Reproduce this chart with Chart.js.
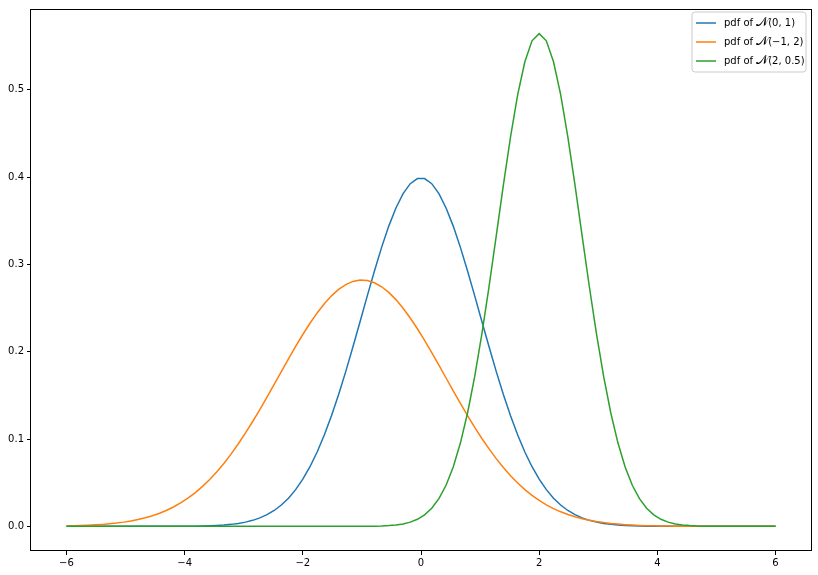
<!DOCTYPE html>
<html>
<head>
<meta charset="utf-8">
<script src="https://cdn.jsdelivr.net/npm/chart.js@4/dist/chart.umd.min.js"></script>
<style>
	html, body { margin: 0; padding: 0; background: #fff; }
	canvas { display: block; }
</style>
</head>
<body>
<canvas id="pdfChart" width="818" height="575"></canvas>
<script>
// x grid, -6 .. 6 (100 samples)
const xs = [
	-6.0, -5.8788, -5.7576, -5.6364, -5.5152, -5.3939, -5.2727, -5.1515, -5.0303, -4.9091,
	-4.7879, -4.6667, -4.5455, -4.4242, -4.303, -4.1818, -4.0606, -3.9394, -3.8182, -3.697,
	-3.5758, -3.4545, -3.3333, -3.2121, -3.0909, -2.9697, -2.8485, -2.7273, -2.6061, -2.4848,
	-2.3636, -2.2424, -2.1212, -2.0, -1.8788, -1.7576, -1.6364, -1.5152, -1.3939, -1.2727,
	-1.1515, -1.0303, -0.9091, -0.7879, -0.6667, -0.5455, -0.4242, -0.303, -0.1818, -0.0606,
	0.0606, 0.1818, 0.303, 0.4242, 0.5455, 0.6667, 0.7879, 0.9091, 1.0303, 1.1515,
	1.2727, 1.3939, 1.5152, 1.6364, 1.7576, 1.8788, 2.0, 2.1212, 2.2424, 2.3636,
	2.4848, 2.6061, 2.7273, 2.8485, 2.9697, 3.0909, 3.2121, 3.3333, 3.4545, 3.5758,
	3.697, 3.8182, 3.9394, 4.0606, 4.1818, 4.303, 4.4242, 4.5455, 4.6667, 4.7879,
	4.9091, 5.0303, 5.1515, 5.2727, 5.3939, 5.5152, 5.6364, 5.7576, 5.8788, 6.0,
];

const pdfStd = [
	0, 0, 0, 0, 0, 0, 0, 0, 0, 0,
	0, 0, 0, 0, 0, 0.00006, 0.0001, 0.00017, 0.00027, 0.00043,
	0.00067, 0.00102, 0.00154, 0.00229, 0.00336, 0.00485, 0.0069, 0.00968, 0.01337, 0.0182,
	0.02442, 0.03229, 0.04206, 0.05399, 0.0683, 0.08514, 0.10459, 0.1266, 0.151, 0.17749,
	0.20558, 0.23464, 0.2639, 0.29249, 0.31945, 0.3438, 0.36461, 0.38104, 0.3924, 0.39821,
	0.39821, 0.3924, 0.38104, 0.36461, 0.3438, 0.31945, 0.29249, 0.2639, 0.23464, 0.20558,
	0.17749, 0.151, 0.1266, 0.10459, 0.08514, 0.0683, 0.05399, 0.04206, 0.03229, 0.02442,
	0.0182, 0.01337, 0.00968, 0.0069, 0.00485, 0.00336, 0.00229, 0.00154, 0.00102, 0.00067,
	0.00043, 0.00027, 0.00017, 0.0001, 0.00006, 0, 0, 0, 0, 0,
	0, 0, 0, 0, 0, 0, 0, 0, 0, 0,
];

const pdfWide = [
	0.00054, 0.00073, 0.00098, 0.00131, 0.00173, 0.00226, 0.00294, 0.00379, 0.00486, 0.00618,
	0.00781, 0.00979, 0.01218, 0.01504, 0.01844, 0.02245, 0.02712, 0.03253, 0.03873, 0.04578,
	0.05371, 0.06256, 0.07232, 0.08301, 0.09456, 0.10695, 0.12007, 0.1338, 0.14802, 0.16256,
	0.17721, 0.19178, 0.20601, 0.2197, 0.23256, 0.24438, 0.25494, 0.26398, 0.27136, 0.2769,
	0.28048, 0.28203, 0.28151, 0.27894, 0.27437, 0.2679, 0.25966, 0.24982, 0.23861, 0.22625,
	0.21295, 0.19895, 0.18452, 0.16989, 0.15527, 0.14087, 0.12687, 0.11341, 0.10066, 0.08868,
	0.07755, 0.06733, 0.05802, 0.04963, 0.04215, 0.03553, 0.02973, 0.0247, 0.02037, 0.01667,
	0.01355, 0.01093, 0.00875, 0.00696, 0.00549, 0.0043, 0.00334, 0.00258, 0.00198, 0.0015,
	0.00114, 0.00085, 0.00063, 0.00047, 0.00034, 0.00025, 0.00018, 0.00013, 0.00009, 0.00007,
	0.00005, 0.00003, 0.00002, 0.00002, 0.00001, 0.00001, 0, 0, 0, 0,
];

const pdfNarrow = [
	0, 0, 0, 0, 0, 0, 0, 0, 0, 0,
	0, 0, 0, 0, 0, 0, 0, 0, 0, 0,
	0, 0, 0, 0, 0, 0, 0, 0, 0, 0,
	0, 0, 0, 0, 0, 0, 0, 0, 0, 0,
	0.00003, 0.00006, 0.00012, 0.00024, 0.00046, 0.00087, 0.00158, 0.00281, 0.00483, 0.00808,
	0.01312, 0.02069, 0.03168, 0.04711, 0.06801, 0.09536, 0.12982, 0.17163, 0.22032, 0.27464,
	0.33244, 0.39076, 0.446, 0.49431, 0.53199, 0.55596, 0.56419, 0.55596, 0.53199, 0.49431,
	0.446, 0.39076, 0.33244, 0.27464, 0.22032, 0.17163, 0.12982, 0.09536, 0.06801, 0.04711,
	0.03168, 0.02069, 0.01312, 0.00808, 0.00483, 0.00281, 0.00158, 0.00087, 0.00046, 0.00024,
	0.00012, 0.00006, 0.00003, 0, 0, 0, 0, 0, 0, 0,
];

const seriesLabels = ['(0, 1)', '(\u22121, 2)', '(2, 0.5)'];
const xTicks = [-6, -4, -2, 0, 2, 4, 6];
const yTicks = [0, 0.1, 0.2, 0.3, 0.4, 0.5];

const FONT = '10px "DejaVu Sans"';
const SCRIPT_N = '\uD835\uDCA9';

const toPoints = (ys) => xs.map((x, i) => ({ x: x, y: ys[i] }));

// spines on all four sides plus the matplotlib style legend box
const framePlugin = {
	id: 'frame',
	afterDatasetsDraw(chart) {
		const { ctx, chartArea } = chart;
		ctx.save();
		ctx.strokeStyle = '#000';
		ctx.lineWidth = 1;
		ctx.strokeRect(
			Math.round(chartArea.left) - 0.5,
			Math.round(chartArea.top) + 0.5,
			Math.round(chartArea.right - chartArea.left) + 1,
			Math.round(chartArea.bottom - chartArea.top) - 1
		);

		// legend
		const bx = 692, by = 12, bw = 114, bh = 60, r = 3;
		ctx.beginPath();
		ctx.moveTo(bx + r, by);
		ctx.arcTo(bx + bw, by, bx + bw, by + bh, r);
		ctx.arcTo(bx + bw, by + bh, bx, by + bh, r);
		ctx.arcTo(bx, by + bh, bx, by, r);
		ctx.arcTo(bx, by, bx + bw, by, r);
		ctx.closePath();
		ctx.fillStyle = 'rgba(255,255,255,0.8)';
		ctx.fill();
		ctx.strokeStyle = '#cccccc';
		ctx.lineWidth = 1;
		ctx.stroke();

		chart.data.datasets.forEach((ds, i) => {
			const y = 23 + i * 19;
			ctx.beginPath();
			ctx.moveTo(696, y);
			ctx.lineTo(716, y);
			ctx.strokeStyle = ds.borderColor;
			ctx.lineWidth = 1.5;
			ctx.stroke();

			ctx.fillStyle = '#000';
			ctx.textBaseline = 'middle';
			ctx.textAlign = 'left';
			ctx.font = FONT;
			let tx = 724;
			ctx.fillText('pdf of ', tx, y);
			tx += ctx.measureText('pdf of ').width;
			ctx.font = '13px "DejaVu Serif", "DejaVu Sans"';
			ctx.fillText(SCRIPT_N, tx, y);
			tx += ctx.measureText(SCRIPT_N).width;
			ctx.font = FONT;
			ctx.fillText(seriesLabels[i], tx, y);
		});
		ctx.restore();
	},
};

new Chart(document.getElementById('pdfChart').getContext('2d'), {
	type: 'line',
	data: {
		datasets: [
			{
				label: 'pdf of N(0, 1)',
				data: toPoints(pdfStd),
				borderColor: '#1f77b4',
				order: 3,
			},
			{
				label: 'pdf of N(-1, 2)',
				data: toPoints(pdfWide),
				borderColor: '#ff7f0e',
				order: 2,
			},
			{
				label: 'pdf of N(2, 0.5)',
				data: toPoints(pdfNarrow),
				borderColor: '#2ca02c',
				order: 1,
			},
		],
	},
	options: {
		responsive: false,
		animation: false,
		datasets: {
			line: {
				borderWidth: 1.5,
				pointRadius: 0,
				tension: 0,
				fill: false,
			},
		},
		layout: { padding: { top: 7, right: 7, left: 0, bottom: 0 } },
		plugins: {
			legend: { display: false },
			tooltip: { enabled: false },
		},
		scales: {
			x: {
				type: 'linear',
				min: -6.6,
				max: 6.6,
				afterBuildTicks: (scale) => {
					scale.ticks = xTicks.map((v) => ({ value: v }));
				},
				afterFit: (scale) => {
					scale.height = 24;
				},
				grid: {
					drawOnChartArea: false,
					drawTicks: true,
					tickLength: 4,
					color: '#000',
				},
				border: { display: false },
				ticks: {
					autoSkip: false,
					maxRotation: 0,
					padding: 2,
					color: '#000',
					font: { family: 'DejaVu Sans', size: 10 },
					callback: (v) => (v < 0 ? '\u2212' + Math.abs(v) : String(v)),
				},
			},
			y: {
				type: 'linear',
				min: -0.0282,
				max: 0.5924,
				afterBuildTicks: (scale) => {
					scale.ticks = yTicks.map((v) => ({ value: v }));
				},
				afterFit: (scale) => {
					scale.width = 31;
				},
				grid: {
					drawOnChartArea: false,
					drawTicks: true,
					tickLength: 4,
					color: '#000',
				},
				border: { display: false },
				ticks: {
					autoSkip: false,
					padding: 3,
					color: '#000',
					font: { family: 'DejaVu Sans', size: 10 },
					callback: (v) => v.toFixed(1),
				},
			},
		},
	},
	plugins: [framePlugin],
});
</script>
</body>
</html>
